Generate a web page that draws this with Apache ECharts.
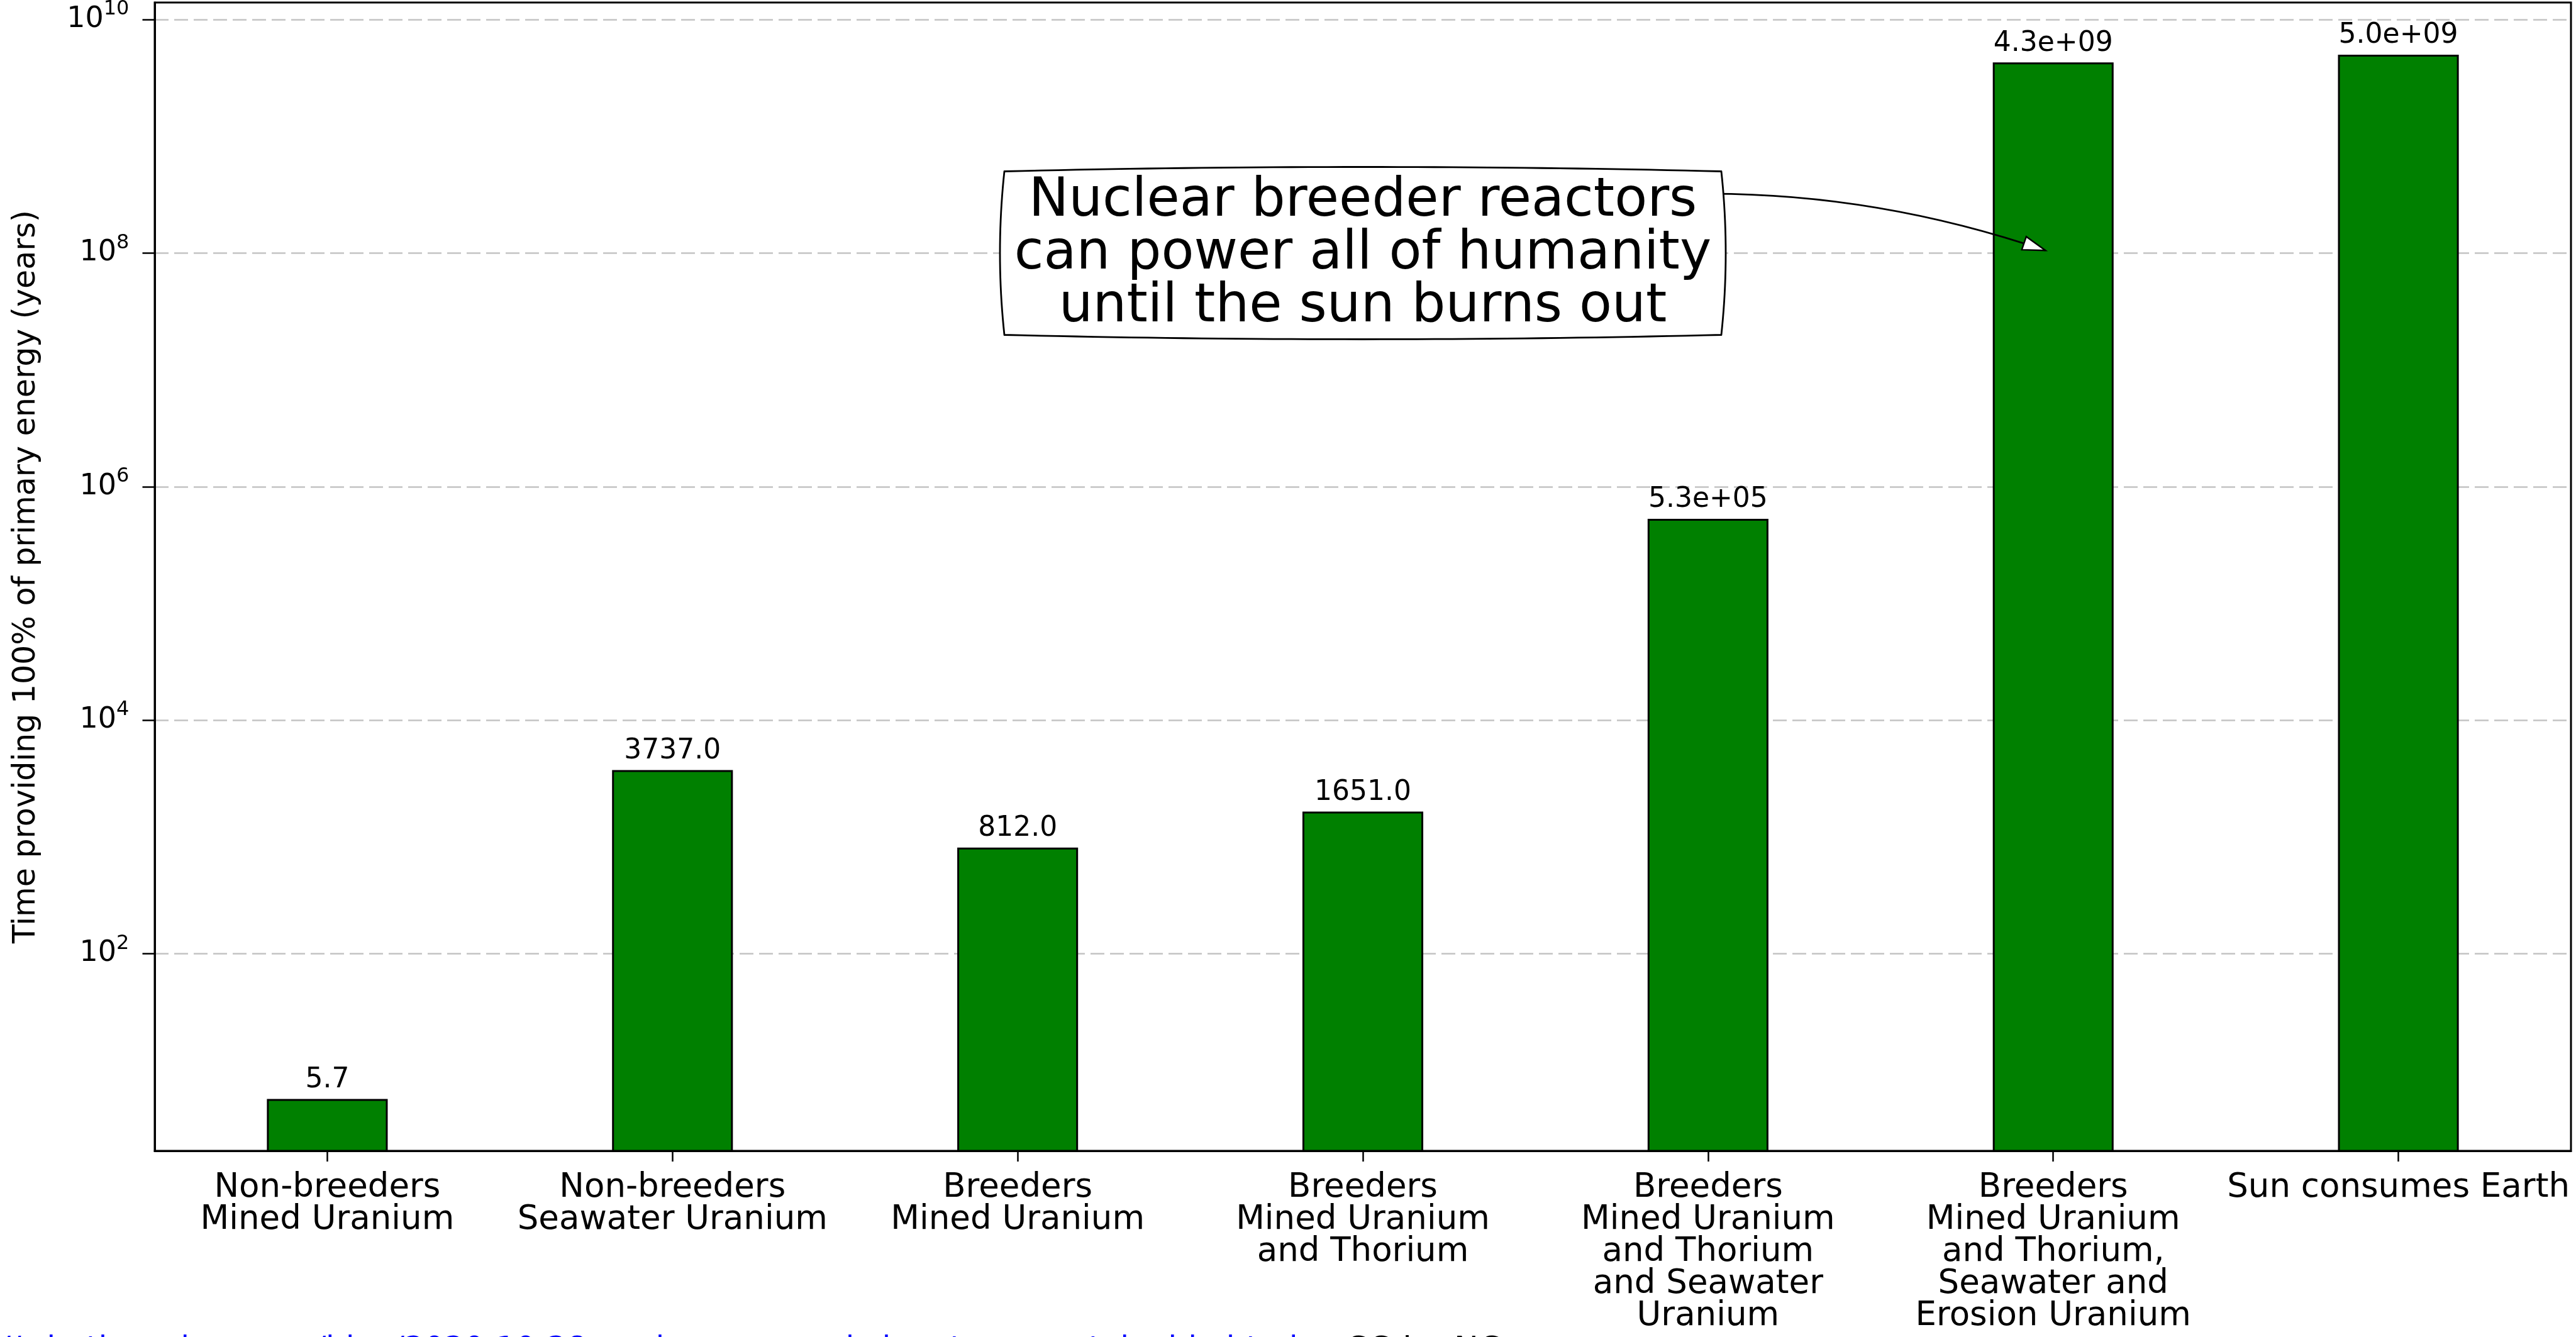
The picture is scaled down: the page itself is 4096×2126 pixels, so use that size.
<!DOCTYPE html>
<html><head><meta charset="utf-8">
<script src="https://cdn.jsdelivr.net/npm/echarts@6/dist/echarts.min.js"></script>
<style>html,body{margin:0;padding:0;background:#fff;overflow:hidden}#c{width:4096px;height:2126px}</style>
</head><body><div id="c"></div><script>
// ---- data ----
const categories = [
  'Non-breeders\nMined Uranium',
  'Non-breeders\nSeawater Uranium',
  'Breeders\nMined Uranium',
  'Breeders\nMined Uranium\nand Thorium',
  'Breeders\nMined Uranium\nand Thorium\nand Seawater\nUranium',
  'Breeders\nMined Uranium\nand Thorium,\nSeawater and\nErosion Uranium',
  'Sun consumes Earth'
];
const years = [5.7, 3737, 812, 1651, 5.3e5, 4.3e9, 5.0e9];
const yTicks = [1e2, 1e4, 1e6, 1e8, 1e10];
const yRange = [2.05, 1.4e10];
const yTitle = 'Time providing 100% of primary energy (years)';
const noteLines = ['Nuclear breeder reactors', 'can power all of humanity', 'until the sun burns out'];
const noteTextAt = [3, 1e8];
const noteArrowTo = [5, 1e8];
const sourceUrl = '//whatisnuclear.com/blog/2020-10-28-nuclear-energy-is-longterm-sustainable.html';
const licence = 'CC-by-NC';

const FONT = 'DejaVu Sans';

function fmtValue(v) {
  if (v >= 1e5) return v.toExponential(1).replace(/e([+-])(\d)$/, 'e$10$2');
  return v.toFixed(1);
}

const option = {
  animation: false,
  backgroundColor: '#ffffff',
  grid: {
    left: 246, right: 8, top: 4, bottom: 296,
    containLabel: false, outerBoundsMode: 'none',
    show: true, borderColor: '#000', borderWidth: 3, backgroundColor: 'transparent'
  },
  xAxis: {
    type: 'category',
    data: categories,
    boundaryGap: true,
    axisLine: { show: true, lineStyle: { color: '#000', width: 3 } },
    axisTick: { show: true, alignWithLabel: true, length: 17, lineStyle: { color: '#000', width: 2.5 } },
    axisLabel: {
      interval: 0, margin: 34, color: '#000', fontFamily: FONT, fontSize: 53, lineHeight: 51, align: 'center'
    },
    splitLine: { show: false }
  },
  yAxis: {
    type: 'log',
    logBase: 10,
    min: yRange[0], max: yRange[1],
    name: yTitle,
    nameLocation: 'middle',
    nameGap: 179,
    nameTextStyle: { color: '#000', fontFamily: FONT, fontSize: 49, lineHeight: 49 },
    axisLine: { show: true, lineStyle: { color: '#000', width: 3 } },
    axisTick: { show: true, length: 19.5, customValues: yTicks, lineStyle: { color: '#000', width: 2.5 } },
    axisLabel: {
      customValues: yTicks,
      margin: 40.6,
      color: '#000',
      formatter: function (v) {
        const e = Math.round(Math.log10(v));
        return '{b|10}{s|' + e + '}';
      },
      rich: {
        b: { fontFamily: FONT, fontSize: 46, lineHeight: 64, color: '#000' },
        s: { fontFamily: FONT, fontSize: 32, lineHeight: 36, verticalAlign: 'top', color: '#000' }
      }
    },
    splitLine: { show: true, lineStyle: { color: '#c4c4c4', width: 2.5, type: [22, 9] } }
  },
  series: [{
    type: 'bar',
    data: years,
    barWidth: '35%',
    clip: true,
    itemStyle: { color: '#008000', borderColor: '#000', borderWidth: 3 },
    label: {
      show: true, position: 'top', distance: 8,
      color: '#000', fontFamily: FONT, fontSize: 44, lineHeight: 44,
      formatter: function (p) { return fmtValue(p.value); }
    }
  }]
};

const chart = echarts.init(document.getElementById('c'), null, { renderer: 'canvas' });
chart.setOption(option);

// ---- annotation (positioned via the chart's own scales) ----
const A = chart.convertToPixel({ xAxisIndex: 0, yAxisIndex: 0 }, noteTextAt);
const T = chart.convertToPixel({ xAxisIndex: 0, yAxisIndex: 0 }, noteArrowTo);
const rad = 0.17;
const dx = T[0] - A[0], dy = T[1] - A[1];
const cx = (A[0] + T[0]) / 2 + rad * dy;
const cy = (A[1] + T[1]) / 2 - rad * dx;
let ux = T[0] - cx, uy = T[1] - cy;
const ul = Math.hypot(ux, uy); ux /= ul; uy /= ul;
const tip = [T[0] - 13 * ux, T[1] - 13 * uy];
const hl = 36, hw = 11;
const base = [tip[0] - hl * ux, tip[1] - hl * uy];
const px = -uy, py = ux;

// bulging ("round4"-like) box outline sampled from quadratic curves
const bw = 570, bh = 130, bulge = 14;
const x0 = A[0] - bw, x1 = A[0] + bw, y0 = A[1] - bh, y1 = A[1] + bh, xm = A[0], ym = A[1];
function quad(p0, c, p1, n, out) {
  for (let i = 0; i < n; i++) {
    const t = i / n, a = (1 - t) * (1 - t), b = 2 * t * (1 - t), d = t * t;
    out.push([a * p0[0] + b * c[0] + d * p1[0], a * p0[1] + b * c[1] + d * p1[1]]);
  }
}
const boxPts = [];
quad([x0, y0], [xm, y0 - bulge], [x1, y0], 40, boxPts);
quad([x1, y0], [x1 + bulge, ym], [x1, y1], 20, boxPts);
quad([x1, y1], [xm, y1 + bulge], [x0, y1], 40, boxPts);
quad([x0, y1], [x0 - bulge, ym], [x0, y0], 20, boxPts);

chart.setOption({
  graphic: [
    { type: 'bezierCurve', z: 100, silent: true,
      shape: { x1: A[0], y1: A[1], x2: tip[0], y2: tip[1], cpx1: cx, cpy1: cy },
      style: { stroke: '#000', lineWidth: 2.6, fill: null } },
    { type: 'polygon', z: 101, silent: true,
      shape: { points: [tip, [base[0] + hw * px, base[1] + hw * py], [base[0] - hw * px, base[1] - hw * py]] },
      style: { fill: '#fff', stroke: '#000', lineWidth: 2.4, lineJoin: 'miter' } },
    { type: 'polygon', z: 102, silent: true,
      shape: { points: boxPts },
      style: { fill: '#fff', stroke: '#000', lineWidth: 2.8, lineJoin: 'round' } },
    { type: 'text', z: 103, silent: true, x: A[0], y: A[1] + 2,
      style: { text: noteLines.join('\n'), fill: '#000', font: '85px "DejaVu Sans"', lineHeight: 84,
               align: 'center', verticalAlign: 'middle' } },
    { type: 'text', z: 103, silent: true, x: 0, y: 2122,
      style: { text: sourceUrl, fill: '#0000ff', font: '50px "DejaVu Sans"', align: 'left', verticalAlign: 'top' } },
    { type: 'text', z: 103, silent: true, x: 2139, y: 2122,
      style: { text: licence, fill: '#000', font: '52px "DejaVu Sans"', align: 'left', verticalAlign: 'top' } }
  ]
});
</script></body></html>
